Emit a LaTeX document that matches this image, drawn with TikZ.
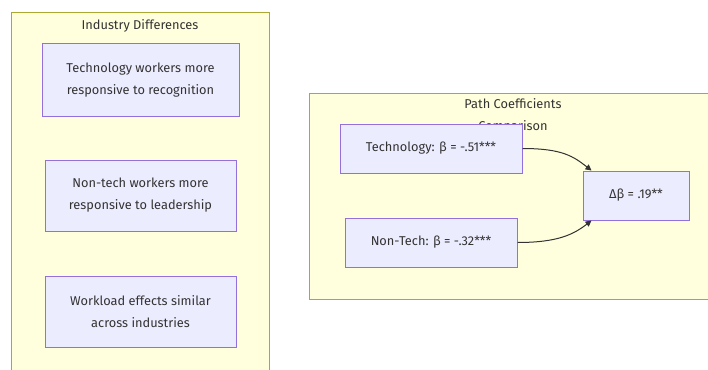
\documentclass[tikz,border=0pt]{standalone}
\usepackage{fontspec}
\setmainfont{Fira Sans}
\usetikzlibrary{calc,arrows.meta}
\definecolor{clusterfill}{HTML}{FFFFDE}
\definecolor{clusterline}{HTML}{AAAA33}
\definecolor{nodefill}{HTML}{ECECFF}
\definecolor{nodeline}{HTML}{9370DB}
\definecolor{ink}{HTML}{333333}
\tikzset{
  cluster/.style={fill=clusterfill, draw=clusterline, line width=1pt},
  box/.style={fill=nodefill, draw=nodeline, line width=1pt, text=ink,
    align=center, inner sep=0pt, font=\fontsize{12.8}{22}\selectfont},
  ctitle/.style={text=ink, inner sep=0pt, font=\fontsize{12.8}{22}\selectfont, align=center},
  link/.style={draw=ink, line width=1pt, -{Triangle[length=6pt,width=6pt]}}
}
\begin{document}
\begin{tikzpicture}[x=1pt,y=-1pt]
  \useasboundingbox (0,0) rectangle (708,369);
  % left group
  \path[cluster] (11,13) rectangle (269,380);
  \node[ctitle] (t1) at (140,25.5) {Industry Differences};
  \node[box, minimum width=197pt, minimum height=72pt] (b1) at (140.5,80)
    {Technology workers more\\responsive to recognition};
  \node[box, minimum width=191pt, minimum height=71pt] (b2) at (140.5,195.5)
    {Non-tech workers more\\responsive to leadership};
  \node[box, minimum width=191pt, minimum height=71pt] (b3) at (140.5,311.5)
    {Workload effects similar\\across industries};
  % right group
  \path[cluster] (309,93) rectangle (712,299);
  \node[ctitle] (t2) at (513,115.5) {Path Coefficients\\Comparison};
  \node[box, minimum width=182pt, minimum height=49pt] (tech) at (431,148.5)
    {Technology: β = -.51***};
  \node[box, minimum width=172pt, minimum height=49pt] (non) at (431,242.5)
    {Non-Tech: β = -.32***};
  \node[box, minimum width=106pt, minimum height=49pt] (d) at (636,195.5)
    {Δβ = .19**};
  \coordinate (din1) at ($(d.north west)+(9,0)$);
  \coordinate (din2) at ($(d.south west)+(9,0)$);
  \draw[link] (tech.east) .. controls +(40,0) and +(-18,-14) .. (din1);
  \draw[link] (non.east) .. controls +(40,0) and +(-18,14) .. (din2);
\end{tikzpicture}
\end{document}
